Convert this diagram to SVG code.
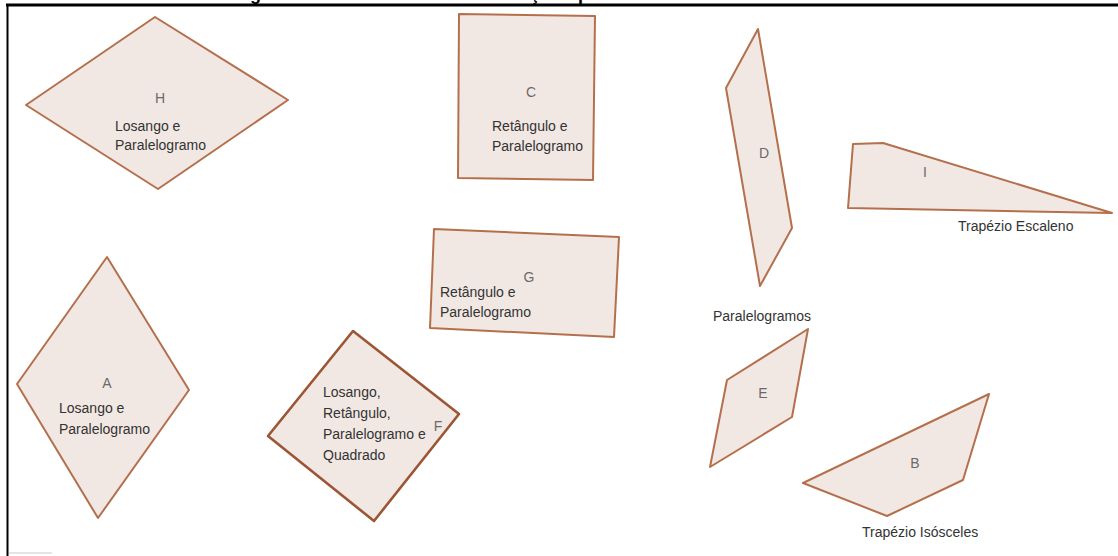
<svg xmlns="http://www.w3.org/2000/svg" width="1118" height="556" viewBox="0 0 1118 556">
  <defs>
    <style>
      .shape { fill: #f2e8e3; stroke: #b4704d; stroke-width: 2; stroke-linejoin: round; }
      .shape.bold { stroke: #9c5535; stroke-width: 2.6; }
      .tag { font-family: "Liberation Sans", Arial, sans-serif; font-size: 14px; fill: #6a6a6a; text-anchor: middle; }
      .note { font-family: "Liberation Sans", Arial, sans-serif; font-size: 14px; fill: #333333; }
      .head { font-family: "Liberation Sans", Arial, sans-serif; font-size: 18px; font-weight: bold; fill: #000000; }
    </style>
  </defs>

  <rect x="0" y="0" width="1118" height="556" fill="#ffffff"/>

  <!-- caption line above the frame (only its descenders fall inside) -->
  <text class="head" y="0"><tspan x="250">g</tspan><tspan x="530">ç</tspan><tspan x="578">p</tspan></text>

  <!-- frame -->
  <g id="frame">
    <line x1="6" y1="5" x2="1118" y2="5" stroke="#000" stroke-width="3"/>
    <line x1="7.5" y1="4" x2="7.5" y2="556" stroke="#000" stroke-width="2"/>
    <line x1="9" y1="553" x2="52" y2="553" stroke="#e4e4e4" stroke-width="2"/>
  </g>

  <g id="connectors"></g>

  <g id="H">
    <polygon class="shape" points="26,105 155,17 288,100 158,189"/>
    <text class="tag" x="160" y="103">H</text>
    <text class="note" x="115" y="131">Losango e</text>
    <text class="note" x="115" y="150">Paralelogramo</text>
  </g>

  <g id="C">
    <polygon class="shape" points="459,14 595,16 593,180 458,178"/>
    <text class="tag" x="531" y="97">C</text>
    <text class="note" x="492" y="131">Retângulo e</text>
    <text class="note" x="492" y="151">Paralelogramo</text>
  </g>

  <g id="D">
    <polygon class="shape" points="758,29 726,88 760,286 792,228"/>
    <text class="tag" x="764" y="158">D</text>
    <text class="note" x="713" y="321">Paralelogramos</text>
  </g>

  <g id="I">
    <polygon class="shape" points="853,144 883,143 1112,213 848,208"/>
    <text class="tag" x="925" y="177">I</text>
    <text class="note" x="958" y="231">Trapézio Escaleno</text>
  </g>

  <g id="G">
    <polygon class="shape" points="434,229 619,237 614,337 430,328"/>
    <text class="tag" x="529" y="282">G</text>
    <text class="note" x="440" y="297">Retângulo e</text>
    <text class="note" x="440" y="317">Paralelogramo</text>
  </g>

  <g id="A">
    <polygon class="shape" points="107,257 189,390 98,518 17,384"/>
    <text class="tag" x="107" y="388">A</text>
    <text class="note" x="59" y="413">Losango e</text>
    <text class="note" x="59" y="434">Paralelogramo</text>
  </g>

  <g id="F">
    <polygon class="shape bold" points="353,331 459,414 374,521 268,436"/>
    <text class="tag" x="438" y="431">F</text>
    <text class="note" x="323" y="397">Losango,</text>
    <text class="note" x="323" y="418">Retângulo,</text>
    <text class="note" x="323" y="439">Paralelogramo e</text>
    <text class="note" x="323" y="460">Quadrado</text>
  </g>

  <g id="E">
    <polygon class="shape" points="808,329 727,380 710,467 792,417"/>
    <text class="tag" x="763" y="398">E</text>
  </g>

  <g id="B">
    <polygon class="shape" points="989,394 803,483 887,516 963,480"/>
    <text class="tag" x="915" y="468">B</text>
    <text class="note" x="862" y="537">Trapézio Isósceles</text>
  </g>
</svg>
